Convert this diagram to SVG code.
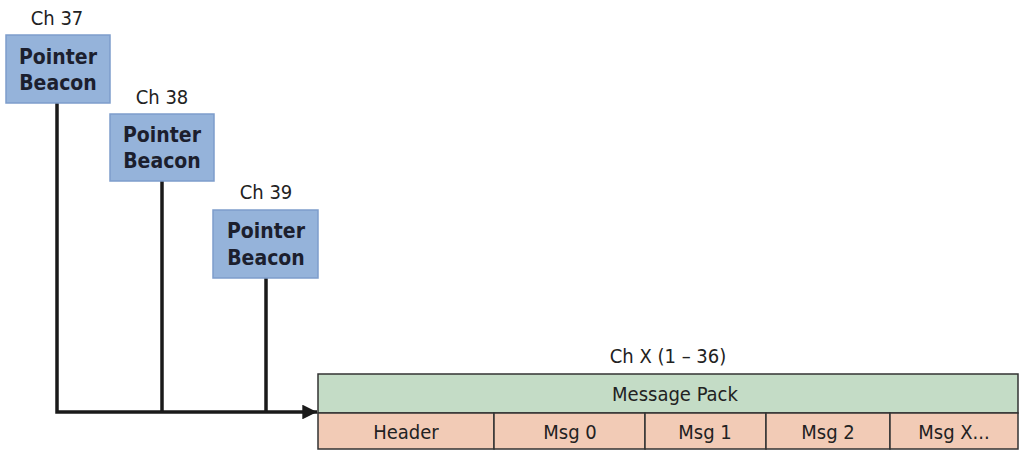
<svg xmlns="http://www.w3.org/2000/svg" width="1020" height="451" viewBox="0 0 1020 451">
  <style>
    .beacon { fill: #95b3da; stroke: #7e9dcb; stroke-width: 1.5; }
    .beacon-text { font-family: "DejaVu Sans Condensed", "DejaVu Sans", sans-serif; font-weight: bold; font-size: 21px; fill: #1c1f2e; text-anchor: middle; }
    .label { font-family: "DejaVu Sans Condensed", "DejaVu Sans", sans-serif; font-size: 20px; fill: #222; text-anchor: middle; }
    .pack { fill: #c4dcc6; stroke: #333; stroke-width: 1.5; }
    .cell { fill: #f2cbb6; stroke: #333; stroke-width: 1.5; }
    .wire { fill: none; stroke: #1a1a1a; stroke-width: 3.5; }
  </style>
  <defs>
    <marker id="arrow" viewBox="0 0 10 10" refX="10" refY="5" markerWidth="7" markerHeight="4.2" markerUnits="strokeWidth" orient="auto">
      <path d="M0,0 L10,5 L0,10 z" fill="#1a1a1a"/>
    </marker>
  </defs>
  <rect width="1020" height="451" fill="#ffffff"/>

  <!-- connectors -->
  <g id="connectors">
    <path class="wire" d="M57,103 V412 H317" marker-end="url(#arrow)"/>
    <path class="wire" d="M162,181 V412"/>
    <path class="wire" d="M266,278 V412"/>
  </g>

  <!-- beacon on channel 37 -->
  <g id="beacon-37">
    <text class="label" x="57" y="25">Ch 37</text>
    <rect class="beacon" x="6" y="35" width="104" height="68"/>
    <text class="beacon-text" x="58" y="64">Pointer</text>
    <text class="beacon-text" x="58" y="90">Beacon</text>
  </g>

  <!-- beacon on channel 38 -->
  <g id="beacon-38">
    <text class="label" x="162" y="104">Ch 38</text>
    <rect class="beacon" x="110" y="114" width="104" height="67"/>
    <text class="beacon-text" x="162" y="142">Pointer</text>
    <text class="beacon-text" x="162" y="168">Beacon</text>
  </g>

  <!-- beacon on channel 39 -->
  <g id="beacon-39">
    <text class="label" x="266" y="199">Ch 39</text>
    <rect class="beacon" x="213" y="210" width="105" height="68"/>
    <text class="beacon-text" x="266" y="238">Pointer</text>
    <text class="beacon-text" x="266" y="265">Beacon</text>
  </g>

  <!-- data channel packet -->
  <g id="message-pack">
    <text class="label" x="668" y="363">Ch X (1 – 36)</text>
    <rect class="pack" x="318" y="374" width="700" height="39"/>
    <text class="label" x="675" y="401">Message Pack</text>
    <rect class="cell" x="318" y="413" width="176" height="36"/>
    <rect class="cell" x="494" y="413" width="151" height="36"/>
    <rect class="cell" x="645" y="413" width="121" height="36"/>
    <rect class="cell" x="766" y="413" width="124" height="36"/>
    <rect class="cell" x="890" y="413" width="128" height="36"/>
    <text class="label" x="406" y="439">Header</text>
    <text class="label" x="570" y="439">Msg 0</text>
    <text class="label" x="705" y="439">Msg 1</text>
    <text class="label" x="828" y="439">Msg 2</text>
    <text class="label" x="954" y="439">Msg X...</text>
  </g>
</svg>
